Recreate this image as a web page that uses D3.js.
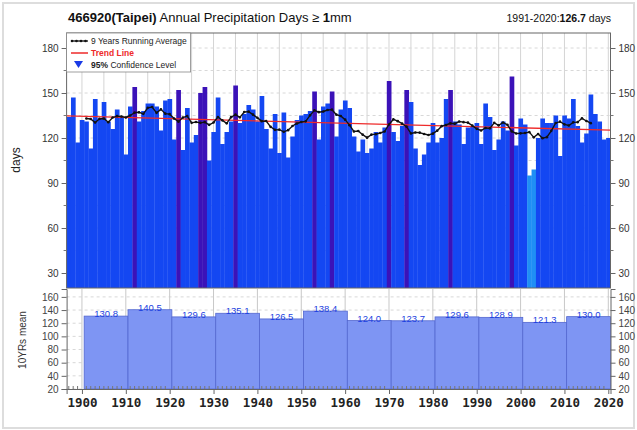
<!DOCTYPE html>
<html><head><meta charset="utf-8">
<script src="https://cdn.jsdelivr.net/npm/d3@7"></script>
<style>
body{margin:0;background:#fff;}
svg{display:block;font-family:"Liberation Sans",Arial,sans-serif;}
</style></head>
<body><svg id="c" width="637" height="430"></svg>
<script>
// ---- data ----
const years = d3.range(1897, 2021);
const days = [
 134,147,117,132,
 131,113,146,133,144,131,126,139,134,109,
 141,154,131,138,143,143,141,125,145,146,
 119,152,112,140,117,122,150,154,105,124,
 147,116,124,131,155,130,136,142,139,131,
 148,126,113,136,110,137,107,121,132,135,
 136,138,151,119,141,143,151,121,139,145,
 140,121,111,119,110,113,124,117,127,158,
 124,118,128,152,144,113,102,109,117,130,
 117,120,146,152,131,129,116,127,128,130,
 116,143,134,112,119,131,125,161,115,133,
 129,95,99,120,133,130,130,135,108,135,
 133,146,128,117,123,149,136,131,119,120
];
const decadeStarts = [1901,1911,1921,1931,1941,1951,1961,1971,1981,1991,2001,2011];
const decadeMeans = [130.8,140.5,129.6,135.1,126.5,138.4,124.0,123.7,129.6,128.9,121.3,130.0];
const normalLabel = "1991-2020:";
const normalValue = "126.7";
const highThreshold = 150, lowThreshold = 100;
const yTicksTop = [30,60,90,120,150,180];
const yTicksBot = [20,40,60,80,100,120,140,160];
const xTicks = d3.range(1900, 2021, 10);

// ---- layout ----
const svg = d3.select("#c");
const L = 66.6, R = 610.5, T = 33, B = 288, B2 = 389, T2 = 289;
const x = d3.scaleLinear().domain([1896.5, 2020.5]).range([L, R]);
const y = d3.scaleLinear().domain([20, 190]).range([B, T]);
const y2 = d3.scaleLinear().domain([20, 172]).range([B2, T2]);

svg.append("rect").attr("x",3).attr("y",3).attr("width",631).attr("height",425)
  .attr("fill","#fff").attr("stroke","#ddd").attr("stroke-width",2);

// grid top
const g = svg.append("g");
d3.range(1900, 2021, 5).forEach(v=>{
  g.append("line").attr("x1",x(v)).attr("x2",x(v)).attr("y1",T).attr("y2",B)
   .attr("stroke","#d4d4d4").attr("stroke-width",1);
});
d3.range(30, 190, 15).forEach(v=>{
  g.append("line").attr("x1",L).attr("x2",R).attr("y1",y(v)).attr("y2",y(v))
   .attr("stroke","#d8d8d8").attr("stroke-dasharray","3,3");
});

// bars
const data = years.map((yr,i)=>({yr, v:days[i]}));
svg.append("g").selectAll("rect").data(data).join("rect")
  .attr("x", d=>x(d.yr-0.5)).attr("width", d=>x(d.yr+0.5)-x(d.yr-0.5)+0.3)
  .attr("y", d=>y(d.v)).attr("height", d=>B-y(d.v))
  .attr("fill", d=> d.v>=highThreshold ? "#3b12b8" : d.v<lowThreshold ? "#1f8ff5" : "#1447f2");

// trend (least squares)
const mx = d3.mean(years), my = d3.mean(days);
const slope = d3.sum(years.map((yr,i)=>(yr-mx)*(days[i]-my))) / d3.sum(years.map(yr=>(yr-mx)**2));
const icpt = my - slope*mx;
svg.append("line").attr("x1",x(1896.5)).attr("x2",x(2020.5))
  .attr("y1",y(icpt+slope*1896.5)).attr("y2",y(icpt+slope*2020.5))
  .attr("stroke","#ee2a2a").attr("stroke-width",1.3);

// running average (9 yrs centered)
const ra = [];
for(let i=4;i<days.length-4;i++) ra.push({yr:years[i], v:d3.mean(days.slice(i-4,i+5))});
svg.append("path").datum(ra)
  .attr("d", d3.line().x(d=>x(d.yr)).y(d=>y(d.v)))
  .attr("fill","none").attr("stroke","#111").attr("stroke-width",1.4);
svg.append("g").selectAll("circle").data(ra).join("circle")
  .attr("cx",d=>x(d.yr)).attr("cy",d=>y(d.v)).attr("r",1.3).attr("fill","#111");

// frame top
svg.append("rect").attr("x",L).attr("y",T).attr("width",R-L).attr("height",B-T)
  .attr("fill","none").attr("stroke","#666").attr("stroke-width",1);

// axes top
const axL = d3.axisLeft(y).tickValues(yTicksTop).tickSize(5).tickPadding(3);
const axR = d3.axisRight(y).tickValues(yTicksTop).tickSize(5).tickPadding(3);
const aL = svg.append("g").attr("transform",`translate(${L},0)`).call(axL);
const aR = svg.append("g").attr("transform",`translate(${R},0)`).call(axR);
[aL,aR].forEach(a=>{ a.select(".domain").remove();
  a.selectAll("text").attr("font-size",10).attr("fill","#333").attr("font-family","Liberation Sans, Arial");
  a.selectAll("line").attr("stroke","#666"); });
// minor ticks top
d3.range(15, 190, 15).filter(v=>v%30!==0 && v>20).forEach(v=>{
  svg.append("line").attr("x1",L-3).attr("x2",L).attr("y1",y(v)).attr("y2",y(v)).attr("stroke","#777");
  svg.append("line").attr("x1",R).attr("x2",R+3).attr("y1",y(v)).attr("y2",y(v)).attr("stroke","#777");
});

svg.append("text").attr("transform","translate(20,160) rotate(-90)").attr("text-anchor","middle")
  .attr("font-size",12).attr("fill","#222").text("days");

// title
const title = svg.append("text").attr("x",68).attr("y",22).attr("font-size",13).attr("fill","#111");
title.append("tspan").attr("font-weight","bold").text("466920(Taipei)");
title.append("tspan").text(" Annual Precipitation Days \u2265 ");
title.append("tspan").attr("font-weight","bold").text("1");
title.append("tspan").text("mm");
const sub = svg.append("text").attr("x",611).attr("y",22).attr("text-anchor","end").attr("font-size",10.5).attr("fill","#111");
sub.append("tspan").text(normalLabel);
sub.append("tspan").attr("font-weight","bold").text(normalValue);
sub.append("tspan").text(" days");

// legend
const lg = svg.append("g");
lg.append("rect").attr("x",L).attr("y",T).attr("width",124).attr("height",39)
  .attr("fill","#fff").attr("stroke","#888").attr("stroke-width",0.8);
lg.append("line").attr("x1",71).attr("x2",88).attr("y1",41).attr("y2",41).attr("stroke","#111").attr("stroke-width",1.3);
[72,76.5,81,85.5].forEach(cx=>lg.append("circle").attr("cx",cx).attr("cy",41).attr("r",1.3).attr("fill","#111"));
lg.append("text").attr("x",91).attr("y",44).attr("font-size",8.5).attr("fill","#222").text("9 Years Running Average");
lg.append("line").attr("x1",71).attr("x2",88).attr("y1",53).attr("y2",53).attr("stroke","#ee2a2a").attr("stroke-width",1.5);
lg.append("text").attr("x",91).attr("y",56).attr("font-size",8.5).attr("font-weight","bold").attr("fill","#ee2a2a").text("Trend Line");
lg.append("path").attr("d","M74,61 L83,61 L78.5,68 Z").attr("fill","#1a3be6");
const lt = lg.append("text").attr("x",91).attr("y",68).attr("font-size",8.5).attr("fill","#222");
lt.append("tspan").attr("font-weight","bold").text("95%");
lt.append("tspan").text(" Confidence Level");

// ---- bottom panel ----
const gb = svg.append("g");
yTicksBot.forEach(v=>{
  gb.append("line").attr("x1",L).attr("x2",R).attr("y1",y2(v)).attr("y2",y2(v))
    .attr("stroke","#d8d8d8").attr("stroke-dasharray","3,3");
});
xTicks.forEach(v=>{
  gb.append("line").attr("x1",x(v)).attr("x2",x(v)).attr("y1",T2).attr("y2",B2)
    .attr("stroke","#c8c8c8");
});
const dec = decadeStarts.map((s,i)=>({s, v:decadeMeans[i]}));
gb.selectAll("rect.d").data(dec).join("rect").attr("class","d")
  .attr("x",d=>x(d.s-0.5)).attr("width",d=>x(d.s+9.5)-x(d.s-0.5))
  .attr("y",d=>y2(d.v)).attr("height",d=>B2-y2(d.v))
  .attr("fill","#7e95f3").attr("stroke","#5468d0").attr("stroke-width",0.8);
gb.selectAll("text.d").data(dec).join("text").attr("class","d")
  .attr("x",d=>x(d.s+4.5)).attr("y",d=>y2(d.v)+1).attr("text-anchor","middle")
  .attr("font-size",9.5).attr("fill","#1c3fe0").text(d=>d.v.toFixed(1));

const bL = svg.append("g").attr("transform",`translate(${L},0)`).call(d3.axisLeft(y2).tickValues(yTicksBot).tickSize(5).tickPadding(3));
const bR = svg.append("g").attr("transform",`translate(${R},0)`).call(d3.axisRight(y2).tickValues(yTicksBot).tickSize(5).tickPadding(3));
[bL,bR].forEach(a=>{ a.select(".domain").attr("stroke","#666");
  a.selectAll("text").attr("font-size",10).attr("fill","#444").attr("font-family","Liberation Sans, Arial");
  a.selectAll("line").attr("stroke","#666"); });

const bx = svg.append("g").attr("transform",`translate(0,${B2})`)
  .call(d3.axisBottom(x).tickValues(xTicks).tickFormat(d3.format("d")).tickSize(5).tickPadding(4));
bx.select(".domain").attr("stroke","#666");
bx.selectAll("line").attr("stroke","#666");
bx.selectAll("text").attr("font-size",12.5).attr("font-weight","bold").attr("fill","#222")
  .attr("font-family","DejaVu Sans Mono, monospace");
d3.range(1897, 2021, 1).filter(v=>v%10!==0).forEach(v=>{
  svg.append("line").attr("x1",x(v)).attr("x2",x(v)).attr("y1",B2).attr("y2",B2-3).attr("stroke","#777");
});

svg.append("text").attr("transform","translate(26,340) rotate(-90)").attr("text-anchor","middle")
  .attr("font-size",10).attr("fill","#333").text("10YRs mean");
</script></body></html>
